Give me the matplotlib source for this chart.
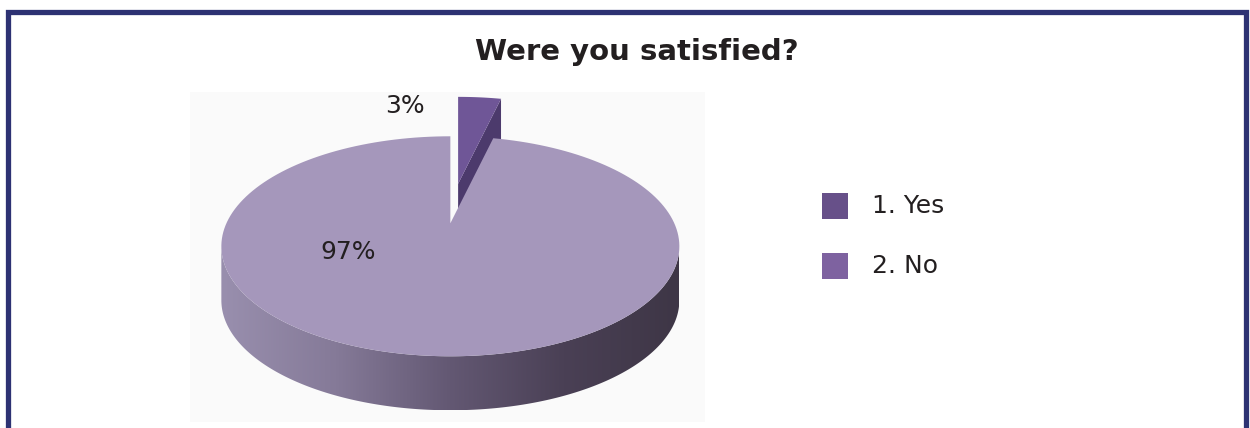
import numpy as np
import matplotlib
matplotlib.use('Agg')
import matplotlib.pyplot as plt
from matplotlib.patches import Polygon, Rectangle
from matplotlib.colors import LinearSegmentedColormap

plt.rcParams['font.family'] = ['DejaVu Sans']

#############################################################################################
# chart data

title = 'Were you satisfied?'
labels = ['1. Yes', '2. No']
values = [3, 97]
legend_colors = ['#675089', '#7e62a0']
top_colors = ['#6f5697', '#a597bb']
edge_colors = ['#4c3a6c', '#6c5f80']
explode = [0.33, 0.03]

#############################################################################################

W, H = 1250, 428
fig = plt.figure(figsize=(W / 100, H / 100), dpi=100)
ax = fig.add_axes([0, 0, 1, 1])
ax.set_xlim(0, W)
ax.set_ylim(H, 0)
ax.axis('off')

# pie geometry, pixel units
cx, cy = 451, 243      # centre of the top ellipse
rx, ry = 229, 110
apex_y = 220           # projected centre sits higher (perspective)
depth = 54

def arc(t0, t1, dx=0.0, dy=0.0, n=200):
	t = np.radians(np.linspace(t0, t1, n))
	return np.column_stack([cx + rx * np.cos(t) + dx, cy - ry * np.sin(t) + dy])

wall_cmap = LinearSegmentedColormap.from_list(
	'wall', ['#998fae', '#857a98', '#635873', '#4a4055', '#3e3646'])
grad = np.linspace(0, 1, 256).reshape(1, -1)

# plot area
ax.add_patch(Rectangle((190, 92), 515, 330, facecolor='#fafafa', edgecolor='none', zorder=0))

# slices go clockwise from 12 o'clock
total = float(sum(values))
start = 90.0
z = 2
for i, v in enumerate(values):
	t0 = start
	t1 = start - 360.0 * v / total
	start = t1
	mid = np.radians((t0 + t1) / 2.0)
	dx = explode[i] * rx * np.cos(mid)
	dy = -explode[i] * ry * np.sin(mid)
	apex = np.array([cx + dx, apex_y + dy])

	# front curved wall (the part of the rim facing the viewer)
	for lo, hi in [(-180.0, 0.0), (180.0, 360.0)]:
		a0, a1 = max(t1, lo), min(t0, hi)
		if a1 <= a0:
			continue
		top = arc(a1, a0, dx, dy)
		bot = top + [0, depth]
		wall = Polygon(np.vstack([top, bot[::-1]]), closed=True, facecolor='none', edgecolor='none', zorder=z)
		ax.add_patch(wall)
		im = ax.imshow(grad, cmap=wall_cmap, aspect='auto', zorder=z,
			extent=[cx - rx + dx, cx + rx + dx, cy + dy + ry + depth, cy + dy - ry])
		im.set_clip_path(wall)
	z += 1

	# radial cut faces that turn towards the viewer
	for t, visible in [(t1, np.cos(np.radians(t1)) > 1e-6), (t0, np.cos(np.radians(t0)) < -1e-6)]:
		if not visible:
			continue
		r = arc(t, t, dx, dy, n=1)[0]
		face = [apex, r, r + [0, depth], apex + [0, depth]]
		ax.add_patch(Polygon(face, closed=True, facecolor=edge_colors[i], edgecolor='none', zorder=z))
	z += 1

	# top face
	pts = np.vstack([apex, arc(t0, t1, dx, dy)])
	ax.add_patch(Polygon(pts, closed=True, facecolor=top_colors[i], edgecolor='none', zorder=z))
	z += 1

# data labels
label_pos = [(405, 106), (348, 252)]
for v, (x, y) in zip(values, label_pos):
	ax.text(x, y, f'{v}%', fontsize=18, color='#231f20', ha='center', va='center', zorder=20)

ax.text(637, 52, title, fontsize=21, fontweight='bold', color='#231f20', ha='center', va='center')

# legend
for i, (lab, col) in enumerate(zip(labels, legend_colors)):
	y = 206 + 60 * i
	ax.add_patch(Rectangle((822, y - 13), 26, 26, facecolor=col, edgecolor='none'))
	ax.text(872, y, lab, fontsize=18, color='#231f20', ha='left', va='center')

# frame
ax.plot([7.5, 7.5, 1245.5, 1245.5], [H + 5, 11.5, 11.5, H + 5], color='#2d3273', lw=3.8,
	solid_joinstyle='miter', clip_on=False)

fig.savefig('out.png', dpi=100)
